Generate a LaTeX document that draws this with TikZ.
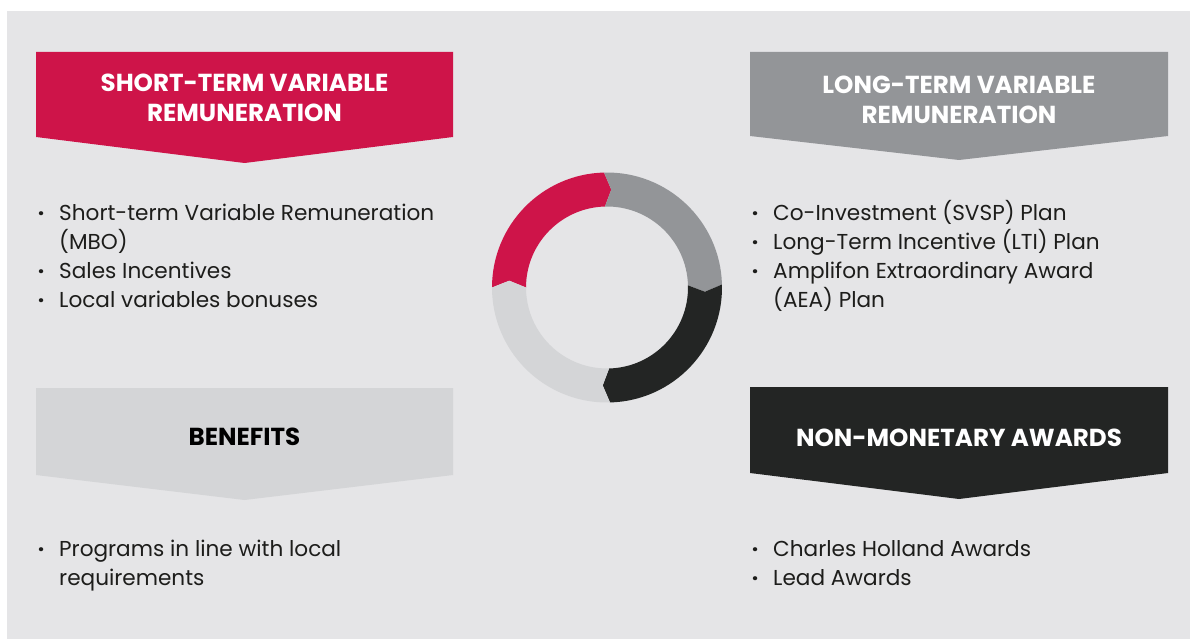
\documentclass[tikz,border=0pt]{standalone}
\usepackage{fontspec}
\setmainfont{Poppins}
\definecolor{pagebg}{HTML}{E5E5E7}
\definecolor{brandred}{HTML}{CE1449}
\definecolor{midgray}{HTML}{939598}
\definecolor{darkgray}{HTML}{232524}
\definecolor{lightgray}{HTML}{D4D5D7}
\definecolor{bodytext}{HTML}{1D1D1B}
\begin{document}
\begin{tikzpicture}[x=1pt,y=-1pt,
  headtext/.style={text=white,font=\fontsize{24.6}{30}\selectfont\bfseries,align=center,inner sep=0pt},
  benefitstext/.style={headtext,text=black},
  itemtext/.style={text=bodytext,font=\fontsize{21.6}{29}\selectfont,anchor=base west,inner sep=0pt},
  dot/.style={text=bodytext,font=\fontsize{21.6}{29}\selectfont\bfseries,anchor=base,inner sep=0pt}]
\useasboundingbox (0,0) rectangle (1190,639);
\fill[white] (0,0) rectangle (1190,639);
\fill[pagebg] (7,11) rectangle (1190,639);

% chevron headers
\fill[brandred]  (36,52)  -- (453,52)   -- (453,137)  -- (244.5,163) -- (36,137)  -- cycle;
\fill[midgray]   (750,52) -- (1168,52)  -- (1168,136) -- (959,160)   -- (750,136) -- cycle;
\fill[lightgray] (36,388) -- (453,388)  -- (453,475)  -- (244.5,500) -- (36,475)  -- cycle;
\fill[darkgray]  (750,387) -- (1168,387) -- (1168,473) -- (959,499)   -- (750,473) -- cycle;

\node[headtext] (stvr) at (244.5,97.5) {SHORT-TERM VARIABLE\\REMUNERATION};
\node[headtext] (ltvr) at (959,99.5) {LONG-TERM VARIABLE\\REMUNERATION};
\node[benefitstext] (ben) at (244.5,437) {BENEFITS};
\node[headtext] (nma) at (959,438) {NON-MONETARY AWARDS};

% ring of four arrow segments, running clockwise
\begin{scope}[shift={(607,287.5)},y=1pt]
  \def\R{115}\def\r{81}\def\m{98}\def\d{4}
  \foreach \a/\b/\c in {180/91.5/brandred, 91.5/1.5/midgray, 1.5/-88.5/darkgray, -88.5/-180/lightgray}{
    \fill[\c] (\a:\R) arc[start angle=\a, end angle=\b, radius=\R]
      -- ({\b-\d}:\m) -- (\b:\r) arc[start angle=\b, end angle=\a, radius=\r]
      -- ({\a-\d}:\m) -- cycle;
  }
\end{scope}

% short-term items
\node[dot] (d1) at (41,220.5) {·};
\node[itemtext] (s1) at (59,220.5) {Short-term Variable Remuneration};
\node[itemtext] (s1b) at (59,249.5) {(MBO)};
\node[dot] (d2) at (41,278.5) {·};
\node[itemtext] (s2) at (59,278.5) {Sales Incentives};
\node[dot] (d3) at (41,307.5) {·};
\node[itemtext] (s3) at (59,307.5) {Local variables bonuses};

% long-term items
\node[dot] (e1) at (755,220.5) {·};
\node[itemtext] (l1) at (773,220.5) {Co-Investment (SVSP) Plan};
\node[dot] (e2) at (755,249.5) {·};
\node[itemtext] (l2) at (773,249.5) {Long-Term Incentive (LTI) Plan};
\node[dot] (e3) at (755,278.5) {·};
\node[itemtext] (l3) at (773,278.5) {Amplifon Extraordinary Award};
\node[itemtext] (l3b) at (773,307.5) {(AEA) Plan};

% benefits items
\node[dot] (f1) at (41,556) {·};
\node[itemtext] (b1) at (59,556) {Programs in line with local};
\node[itemtext] (b1b) at (59,585) {requirements};

% non-monetary items
\node[dot] (g1) at (755,556) {·};
\node[itemtext] (n1) at (773,556) {Charles Holland Awards};
\node[dot] (g2) at (755,585) {·};
\node[itemtext] (n2) at (773,585) {Lead Awards};
\end{tikzpicture}
\end{document}
